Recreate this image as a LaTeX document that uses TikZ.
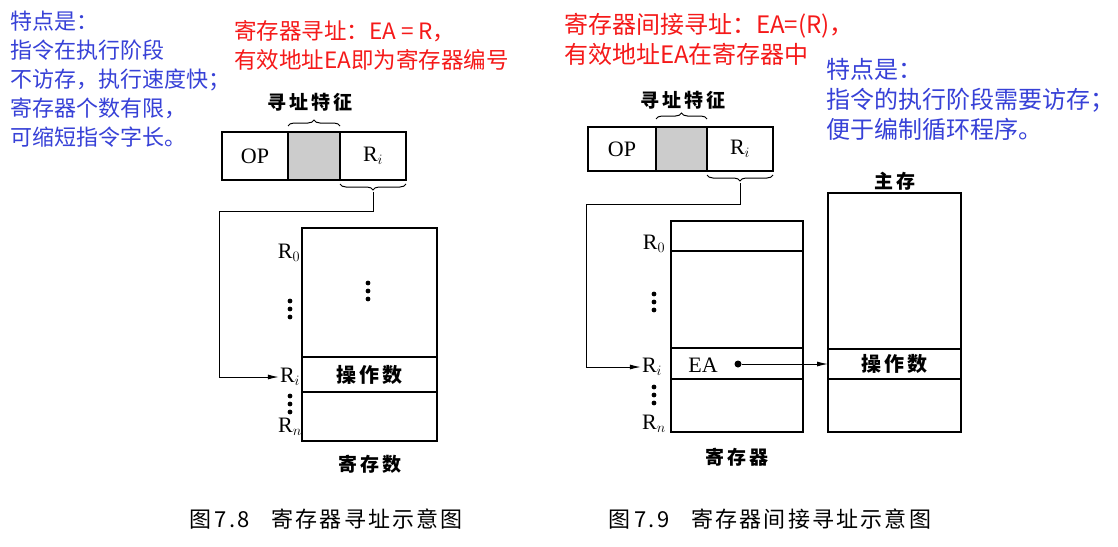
\documentclass[tikz,border=0pt]{standalone}
\usepackage{fontspec}
\setmainfont{Liberation Serif}
\newfontfamily\cjk{Noto Sans CJK SC}
\usetikzlibrary{arrows.meta,positioning,decorations.pathreplacing}
\definecolor{noteblue}{RGB}{55,65,215}
\definecolor{notered}{RGB}{245,25,25}

\begin{document}
\begin{tikzpicture}[
    x=1pt, y=-1pt,
    field/.style={draw, line width=2pt, inner sep=0pt, outer sep=0pt,
    minimum height=48pt, font=\fontsize{22}{22}\selectfont},
    cell/.style={draw, line width=2pt, inner sep=0pt, outer sep=0pt,
    minimum width=135pt, font=\cjk\bfseries\fontsize{20}{20}\selectfont},
    reg/.style={inner sep=1pt, font=\fontsize{22}{22}\selectfont},
    lbl/.style={inner sep=0pt, font=\cjk\bfseries\fontsize{19}{19}\selectfont},
    note/.style={align=left, inner sep=0pt, anchor=north west,
    font=\cjk\fontsize{22}{29}\selectfont},
    bignote/.style={note, font=\cjk\fontsize{24}{30}\selectfont},
    figcap/.style={inner sep=0pt,
    font=\cjk\fontsize{22}{22}\selectfont\addfontfeature{LetterSpace=10}},
    brc/.style={decorate, decoration={brace, amplitude=6pt}, line width=1pt},
    arr/.style={-{Latex[length=11pt,width=5pt]}, line width=1pt}
]
\fill[white] (0,0) rectangle (1118,546);
\useasboundingbox (0,0) rectangle (1118,546);

% notes
\node[note, text=noteblue] (featA) at (10,11)
  {特点是：\\指令在执行阶段\\不访存，执行速度快；\\寄存器个数有限，\\可缩短指令字长。};
\node[note, text=notered, font=\cjk\fontsize{22.5}{29}\selectfont] (defA) at (234,20)
  {寄存器寻址：EA = R，\\有效地址EA即为寄存器编号};
\node[bignote, text=notered] (defB) at (564,13)
  {寄存器间接寻址：EA=(R)，\\有效地址EA在寄存器中};
\node[bignote, text=noteblue] (featB) at (826,58)
  {特点是：\\指令的执行阶段需要访存；\\便于编制循环程序。};

% register addressing
\node[lbl] (modeA) at (310,102) {寻\,址\,特\,征};
\node[field, minimum width=66pt, anchor=west] (opA) at (222,156) {OP};
\node[field, minimum width=52pt, right=0pt of opA, fill=gray!40] (addrA) {};
\node[field, minimum width=66pt, right=0pt of addrA] (regA) {R$_i$};
\draw[brc] (288,126) -- (340,126);
\draw[brc] (406,184) -- (340,184);
\coordinate (braceA) at (373,192);

\node[cell, minimum height=129pt, anchor=north west] (topA) at (302,228) {};
\node[cell, minimum height=35pt, below=0pt of topA] (operA) {操\,作\,数};
\node[cell, minimum height=49pt, below=0pt of operA] (botA) {};
\node[reg] (r0A) at (289,253) {R$_0$};
\node[reg] (riA) at (290,377) {R$_i$};
\node[reg] (rnA) at (290,427) {R$_n$};
\foreach \y in {301,309,317} \fill (290,\y) circle (2.4pt);
\foreach \y in {283,291,299} \fill (368,\y) circle (2.4pt);
\foreach \y in {396,404,412} \fill (290,\y) circle (2.4pt);
\node[lbl] (nameA) at (370,464) {寄\,存\,数};
\draw[arr] (braceA) -- ++(0,19) -| ([xshift=-59pt]riA.west) -- (riA.west);
\node[figcap] (capA) at (326,519) {图\,7.8\quad 寄存器寻址示意图};

% register indirect addressing
\node[lbl] (modeB) at (683,100) {寻\,址\,特\,征};
\node[field, minimum width=68pt, minimum height=44pt, anchor=west] (opB) at (588,149) {OP};
\node[field, minimum width=51pt, minimum height=44pt, right=0pt of opB, fill=gray!40] (addrB) {};
\node[field, minimum width=66pt, minimum height=44pt, right=0pt of addrB] (regB) {R$_i$};
\draw[brc] (656,119) -- (707,119);
\draw[brc] (773,175) -- (707,175);
\coordinate (braceB) at (740,183);

\node[cell, minimum width=132pt, minimum height=30pt, anchor=north west] (rowB) at (671,221) {};
\node[cell, minimum width=132pt, minimum height=97pt, below=0pt of rowB] (midB) {};
\node[cell, minimum width=132pt, minimum height=31pt, below=0pt of midB] (eaRowB) {};
\node[cell, minimum width=132pt, minimum height=53pt, below=0pt of eaRowB] (botB) {};
\node[reg] (eaB) at (703,365) {EA};
\node[circle, fill, inner sep=0pt, minimum size=7pt] (eaDot) at (738,364) {};
\node[reg] (r0B) at (654,244) {R$_0$};
\node[reg] (riB) at (652,367) {R$_i$};
\node[reg] (rnB) at (654,424) {R$_n$};
\foreach \y in {294,302,310} \fill (654,\y) circle (2.4pt);
\foreach \y in {387,395,403} \fill (654,\y) circle (2.4pt);
\node[lbl] (nameB) at (737,457) {寄\,存\,器};
\draw[arr] (braceB) -- ++(0,21) -| ([xshift=-54pt]riB.west) -- (riB.west);

\node[cell, minimum width=133pt, minimum height=156pt, anchor=north west] (memTopB) at (828,193) {};
\node[cell, minimum width=133pt, minimum height=30pt, below=0pt of memTopB] (memOpB) {操\,作\,数};
\node[cell, minimum width=133pt, minimum height=53pt, below=0pt of memOpB] (memBotB) {};
\node[lbl] (memB) at (895,181) {主\,存};
\draw[arr] (eaDot) -- (memOpB.west);
\node[figcap] (capB) at (770,519) {图\,7.9\quad 寄存器间接寻址示意图};
\end{tikzpicture}
\end{document}
